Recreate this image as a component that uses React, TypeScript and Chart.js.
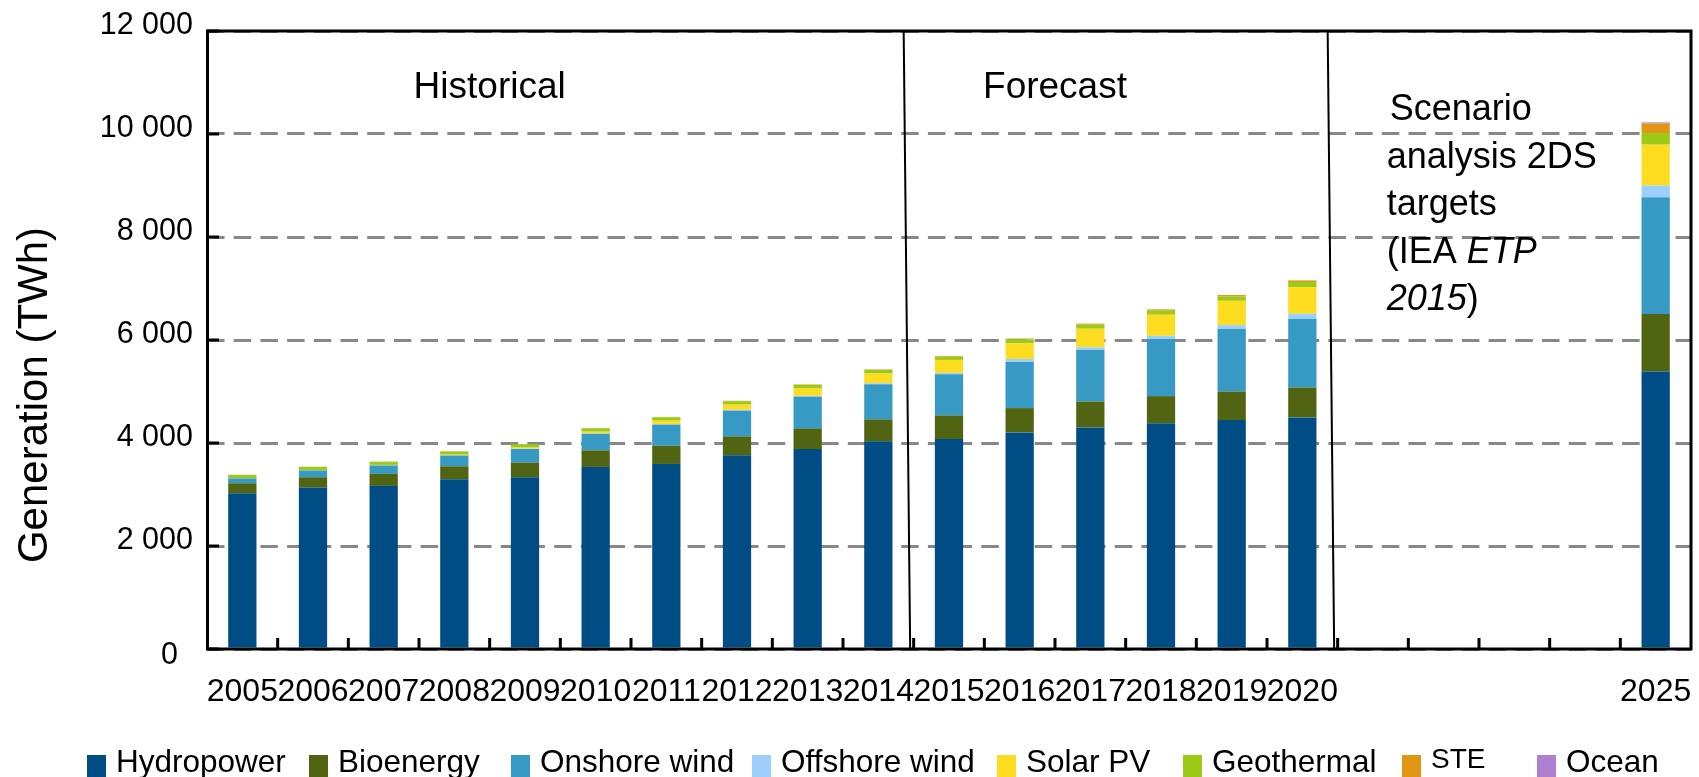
import React, { useEffect, useRef } from "react";
import { Chart, registerables } from "chart.js";

Chart.register(...registerables);

const categories = [
  "2005", "2006", "2007", "2008", "2009", "2010", "2011", "2012", "2013", "2014",
  "2015", "2016", "2017", "2018", "2019", "2020", "", "", "", "", "2025",
];

const hydropower = [3025, 3135, 3168, 3296, 3335, 3535, 3593, 3761, 3884, 4032, 4077, 4206, 4303, 4384, 4445, 4497, null, null, null, null, 5387];
const bioenergy = [193, 200, 232, 252, 284, 323, 355, 368, 399, 426, 458, 471, 503, 526, 555, 580, null, null, null, null, 1116];
const onshoreWind = [95, 133, 163, 208, 265, 321, 408, 500, 614, 684, 800, 903, 1007, 1116, 1219, 1336, null, null, null, null, 2271];
const offshoreWind = [2, 3, 4, 5, 6, 8, 12, 16, 19, 19, 26, 52, 45, 55, 71, 97, null, null, null, null, 226];
const solarPV = [4, 5, 7, 12, 20, 32, 65, 100, 142, 187, 252, 303, 361, 409, 471, 516, null, null, null, null, 793];
const geothermal = [62, 62, 63, 65, 67, 68, 68, 68, 71, 70, 64, 78, 78, 78, 84, 100, null, null, null, null, 226];
const ste = [1, 1, 1, 1, 1, 2, 3, 6, 8, 10, 12, 15, 20, 25, 28, 30, null, null, null, null, 187];
const ocean = [1, 1, 1, 1, 1, 1, 1, 1, 1, 1, 1, 1, 1, 2, 2, 2, null, null, null, null, 20];

const seriesNames = ["Hydropower", "Bioenergy", "Onshore wind", "Offshore wind", "Solar PV", "Geothermal", "STE", "Ocean"];
const seriesValues = [hydropower, bioenergy, onshoreWind, offshoreWind, solarPV, geothermal, ste, ocean];
const seriesColors = ["#004c85", "#506411", "#369ac5", "#9ccffb", "#fedd20", "#9bcb16", "#e19615", "#b080d0"];

const yTickValues = [0, 2000, 4000, 6000, 8000, 10000, 12000];

const FONT = '"Liberation Sans", Arial, sans-serif';

// legend layout (left x of each legend box)
const legendLeft = [87, 309, 511, 752, 997, 1183, 1402, 1537];

const formatTick = (n: number) =>
  n >= 1000 ? `${Math.floor(n / 1000)} ${String(n % 1000).padStart(3, "0")}` : String(n);

const decorPlugin = {
  id: "decor",
  afterDatasetsDraw(chart: any) {
    const { ctx, chartArea, scales } = chart;
    const { left, right, top, bottom } = chartArea;
    const x = scales.x;
    const y = scales.y;
    const catW = x.getPixelForValue(1) - x.getPixelForValue(0);
    const boundary = (i: number) => x.getPixelForValue(i) + catW / 2;

    ctx.save();
    ctx.strokeStyle = "#000";
    ctx.lineWidth = 3;
    ctx.beginPath();
    ctx.moveTo(left + 0.5, top);
    ctx.lineTo(right, top);
    ctx.lineTo(right, bottom);
    ctx.lineTo(left + 0.5, bottom);
    ctx.closePath();
    ctx.stroke();

    // y ticks inward
    ctx.beginPath();
    yTickValues.forEach((v) => {
      const py = y.getPixelForValue(v);
      ctx.moveTo(left, py);
      ctx.lineTo(left + 12, py);
    });
    // x ticks inward at category boundaries
    for (let i = 0; i < categories.length - 1; i++) {
      const px = boundary(i);
      ctx.moveTo(px, bottom);
      ctx.lineTo(px, bottom - 11);
    }
    ctx.stroke();

    // y tick labels
    ctx.fillStyle = "#000";
    ctx.font = `30.5px ${FONT}`;
    ctx.textAlign = "right";
    ctx.textBaseline = "middle";
    yTickValues.forEach((v) => {
      const py = y.getPixelForValue(v);
      if (v === 0) ctx.fillText(formatTick(v), left - 29, py + 7);
      else ctx.fillText(formatTick(v), left - 14, py - 5);
    });

    // dividers
    ctx.lineWidth = 2;
    ctx.beginPath();
    [9, 15].forEach((i) => {
      const b = boundary(i);
      ctx.moveTo(b - 10, top);
      ctx.lineTo(b - 3.5, bottom);
    });
    ctx.stroke();

    // annotations
    ctx.textBaseline = "alphabetic";
    ctx.font = `37px ${FONT}`;
    ctx.textAlign = "center";
    ctx.fillText("Historical", boundary(3), top + 67);
    ctx.fillText("Forecast", boundary(11), top + 67);

    ctx.textAlign = "left";
    const sx = x.getPixelForValue(16) + 0.25 * catW - 4;
    const lh = 47.5;
    const b0 = top + 89;
    const reg = `36px ${FONT}`;
    const ita = `italic 36px ${FONT}`;
    ctx.font = reg;
    ctx.fillText("Scenario", sx + 3, b0);
    ctx.fillText("analysis 2DS", sx, b0 + lh);
    ctx.fillText("targets", sx, b0 + 2 * lh);
    ctx.fillText("(IEA ", sx, b0 + 3 * lh);
    let w = ctx.measureText("(IEA ").width;
    ctx.font = ita;
    ctx.fillText("ETP", sx + w, b0 + 3 * lh);
    ctx.fillText("2015", sx, b0 + 4 * lh);
    w = ctx.measureText("2015").width;
    ctx.font = reg;
    ctx.fillText(")", sx + w, b0 + 4 * lh);

    // y axis title
    ctx.save();
    ctx.translate(35, (top + bottom) / 2 + 55);
    ctx.rotate(-Math.PI / 2);
    ctx.textAlign = "center";
    ctx.textBaseline = "middle";
    ctx.font = `42px ${FONT}`;
    ctx.fillText("Generation (TWh)", 0, 0);
    ctx.restore();

    // legend
    ctx.textAlign = "left";
    ctx.textBaseline = "alphabetic";
    seriesNames.forEach((name, i) => {
      const lx = legendLeft[i];
      ctx.fillStyle = seriesColors[i];
      ctx.fillRect(lx, 755, 19, 23);
      ctx.fillStyle = "#000";
      if (name === "STE") {
        ctx.font = `28px ${FONT}`;
        ctx.fillText(name, lx + 29, 768);
      } else {
        ctx.font = `31.5px ${FONT}`;
        ctx.fillText(name, lx + 29, 772);
      }
    });
    ctx.restore();
  },
};

export default function App() {
  const ref = useRef<HTMLCanvasElement | null>(null);
  useEffect(() => {
    if (!ref.current) return;
    const chart = new Chart(ref.current, {
      type: "bar",
      data: {
        labels: categories,
        datasets: seriesNames.map((name, i) => ({
          label: name,
          data: seriesValues[i],
          backgroundColor: seriesColors[i],
          borderWidth: 0,
          barPercentage: 0.4,
          categoryPercentage: 1,
        })),
      },
      options: {
        animation: false,
        responsive: false,
        devicePixelRatio: 1,
        layout: { padding: { left: 0, top: 31, right: 8, bottom: 0 } },
        plugins: { legend: { display: false }, tooltip: { enabled: false }, title: { display: false } },
        scales: {
          x: {
            stacked: true,
            grid: { display: false, drawTicks: false },
            border: { display: false },
            ticks: {
              autoSkip: false,
              maxRotation: 0,
              minRotation: 0,
              padding: 24,
              color: "#000",
              font: { family: FONT, size: 32 },
            },
            afterFit: (s: any) => {
              s.height = 128;
              s.paddingLeft = 0;
              s.paddingRight = 0;
            },
          },
          y: {
            stacked: true,
            min: 0,
            max: 12000,
            grid: { color: "#888888", lineWidth: 3, drawTicks: false },
            border: { display: false, dash: [17.5, 9.2] },
            ticks: { stepSize: 2000, display: false },
            afterFit: (s: any) => {
              s.width = 207;
            },
          },
        },
      },
      plugins: [decorPlugin],
    });
    return () => chart.destroy();
  }, []);
  return (
    <div style={{ position: "absolute", left: 0, top: 0, width: 1699, height: 777, background: "#fff" }}>
      <canvas ref={ref} width={1699} height={777} style={{ display: "block" }} />
    </div>
  );
}
